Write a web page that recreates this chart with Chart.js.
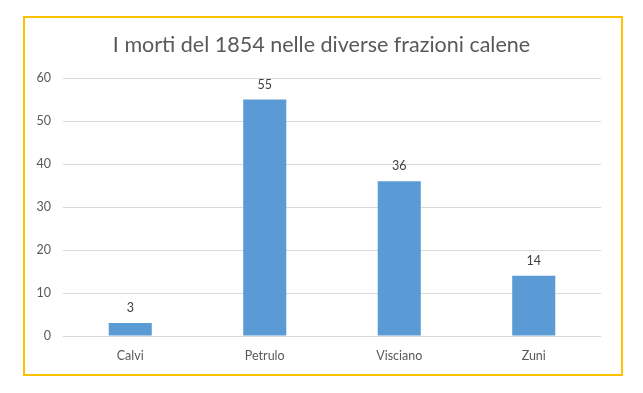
<!DOCTYPE html>
<html>
<head>
<meta charset="utf-8">
<script src="https://cdn.jsdelivr.net/npm/chart.js@4"></script>
<style>
  html, body { margin: 0; padding: 0; background: #fff; }
  #wrap { position: relative; width: 643px; height: 393px; }
  #frame { position: absolute; left: 23px; top: 16px; width: 596px; height: 356px; border: 2px solid #FFC000; }
  canvas { position: absolute; left: 0; top: 0; }
</style>
</head>
<body>
<div id="wrap">
  <div id="frame"></div>
  <canvas id="c" width="643" height="393"></canvas>
</div>
<script>
const chartTitle = "I morti del 1854 nelle diverse frazioni calene";
const categories = ["Calvi", "Petrulo", "Visciano", "Zuni"];
const deaths = [3, 55, 36, 14];
const yTicks = [0, 10, 20, 30, 40, 50, 60];

const FONT = "Lato, 'Open Sans', sans-serif";
const GREY = "#595959";

const titleText = {
  id: "titleText",
  afterDraw(chart) {
    const ctx = chart.ctx;
    ctx.save();
    ctx.font = "21.5px " + FONT;
    ctx.fillStyle = GREY;
    ctx.textAlign = "center";
    ctx.textBaseline = "middle";
    ctx.fillText(chartTitle, 321.5, 45);
    ctx.restore();
  }
};

const valueLabels = {
  id: "valueLabels",
  afterDatasetsDraw(chart) {
    const ctx = chart.ctx;
    ctx.save();
    ctx.font = "12.5px " + FONT;
    ctx.fillStyle = "#404040";
    ctx.textAlign = "center";
    ctx.textBaseline = "middle";
    chart.getDatasetMeta(0).data.forEach((bar, i) => {
      ctx.fillText(String(chart.data.datasets[0].data[i]), bar.x, bar.y - 15);
    });
    ctx.restore();
  }
};

new Chart(document.getElementById("c"), {
  type: "bar",
  data: {
    labels: categories,
    datasets: [{
      label: "Morti",
      data: deaths,
      backgroundColor: "#5B9BD5",
      borderWidth: 0,
      categoryPercentage: 1,
      barPercentage: 0.32
    }]
  },
  options: {
    responsive: false,
    animation: false,
    layout: { padding: { left: 23, right: 42, top: 78, bottom: 0 } },
    plugins: {
      legend: { display: false },
      tooltip: { enabled: false },
      title: { display: false }
    },
    scales: {
      x: {
        grid: { display: false, drawTicks: false },
        border: { display: false },
        ticks: { color: GREY, font: { family: FONT, size: 12.5 }, padding: 12 },
        afterFit(s) { s.height = 57; }
      },
      y: {
        min: 0, max: 60,
        afterBuildTicks(s) { s.ticks = yTicks.map(v => ({ value: v })); },
        grid: { color: "#D9D9D9", drawTicks: false, lineWidth: 1 },
        border: { display: false },
        ticks: { color: GREY, font: { family: FONT, size: 12.5 }, padding: 12 },
        afterFit(s) { s.width = 40; s.paddingTop = 0; }
      }
    }
  },
  plugins: [valueLabels, titleText]
});
</script>
</body>
</html>
